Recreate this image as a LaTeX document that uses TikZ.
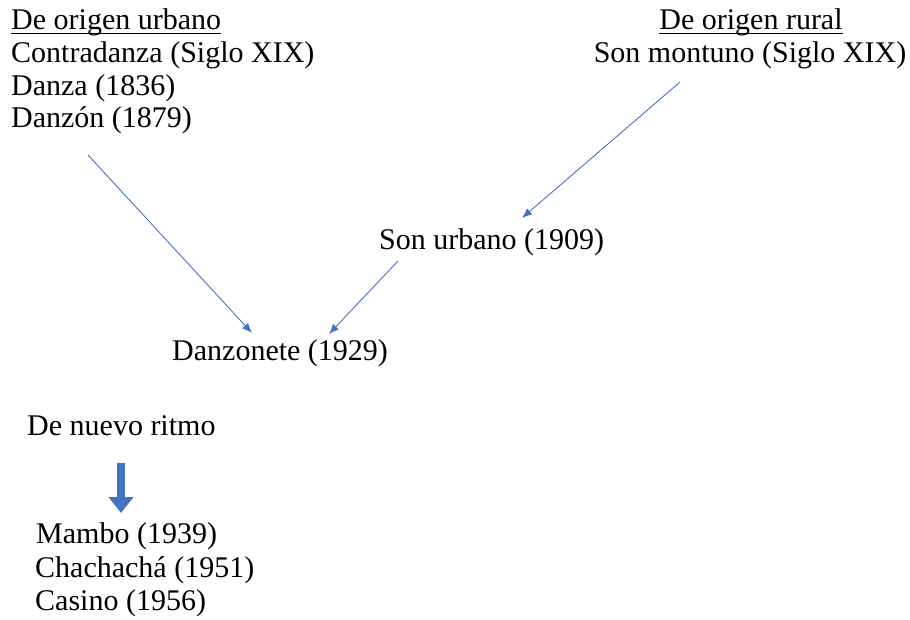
\documentclass[tikz,border=0pt]{standalone}
\usepackage{fontspec}
\setmainfont{Liberation Serif}
\usetikzlibrary{positioning,calc,arrows.meta}
\definecolor{officeblue}{HTML}{4472C4}

\begin{document}
\begin{tikzpicture}[x=1pt, y=-1pt,
    txt/.style = {inner sep=0pt, anchor=base west, font=\fontsize{30}{33}\selectfont},
    ctxt/.style = {txt, anchor=base},
    uline/.style = {line width=1.2pt},
    link/.style = {officeblue, line width=0.9pt, -{Latex[length=10pt, width=8pt]}},
    fatlink/.style = {officeblue, line width=8pt, -{Triangle[length=16pt, width=24pt]}}]
  \useasboundingbox (0,0) rectangle (910,620);

  % de origen urbano
  \node[txt] (urbano) at (11,29.5) {De origen urbano};
  \node[txt] (contradanza) at (11,63) {Contradanza (Siglo XIX)};
  \node[txt] (danza) at (11,95.5) {Danza (1836)};
  \node[txt] (danzon) at (11,128) {Danzón (1879)};
  \draw[uline] ($(urbano.base west)+(0,4)$) -- ($(urbano.base east)+(0,4)$);

  % de origen rural
  \node[ctxt] (rural) at (751,29.5) {De origen rural};
  \node[ctxt] (montuno) at (750,63) {Son montuno (Siglo XIX)};
  \draw[uline] ($(rural.base west)+(0,4)$) -- ($(rural.base east)+(0,4)$);

  \node[txt] (sonurbano) at (379,250) {Son urbano (1909)};
  \node[txt] (danzonete) at (172,360) {Danzonete (1929)};

  % de nuevo ritmo
  \node[txt] (ritmo) at (27,435) {De nuevo ritmo};
  \node[txt] (mambo) at (36,543) {Mambo (1939)};
  \node[txt] (chachacha) at (35,577) {Chachachá (1951)};
  \node[txt] (casino) at (35,610) {Casino (1956)};

  \draw[link] ($(danzon.base west)+(77,27)$) -- ($(danzonete.base west)+(80,-27)$);
  \draw[link] ($(montuno.base)+(-70,19)$) -- ($(sonurbano.base west)+(143,-32)$);
  \draw[link] ($(sonurbano.base west)+(19,11)$) -- ($(danzonete.base west)+(157,-26)$);
  \draw[fatlink] ($(ritmo.base west)+(94,28)$) -- ($(mambo.base west)+(85,-30)$);
\end{tikzpicture}
\end{document}
